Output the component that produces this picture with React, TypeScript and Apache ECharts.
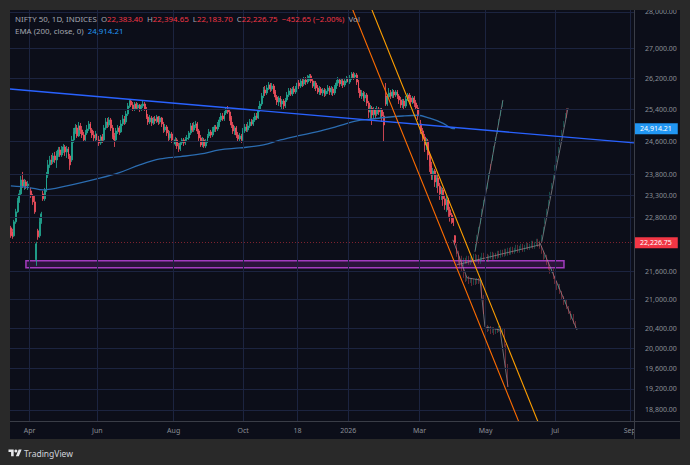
import React, { useEffect, useRef } from 'react';
import * as echarts from 'echarts';

const FONT = '"Noto Sans", "Open Sans", sans-serif';

// ---------- axes ----------
const N_BARS = 368;
const TICK_INDEX = [11, 51, 96, 137, 169, 199, 241, 280, 321, 365];
const TICK_TEXT = ['Apr', 'Jun', 'Aug', 'Oct', '18', '2026', 'Mar', 'May', 'Jul', 'Sep'];
const PRICE_TICKS = [28000, 27000, 26200, 25400, 24600, 23800, 23300, 22800, 21600, 21000, 20400, 20000, 19600, 19200, 18800];
const Y_MIN = 18593;
const Y_MAX = 28056;

// ---------- real daily candles [open, close, low, high] ----------
const CANDLES: number[][] = [
  [22559, 22380, 22335, 22604], [22469, 22357, 22313, 22537], [22380, 22695, 22357, 22740], [22695, 22923, 22650, 22992],
  [22923, 23176, 22900, 23246], [23176, 23339, 23130, 23432], [23339, 23668, 23292, 23763], [23668, 23526, 23479, 23858],
  [23526, 23621, 23432, 23692], [23621, 23526, 23456, 23668], [23526, 23573, 23432, 23644], [23573, 23409, 23362, 23597],
  [23409, 23292, 23246, 23479], [23292, 23153, 23084, 23339], [23153, 22923, 22877, 23292], [21849, 22201, 21718, 22246],
  [22492, 22357, 22290, 22537], [22380, 22695, 22335, 22786], [22695, 22877, 22650, 22923], [23339, 23223, 23176, 23409],
  [23223, 23432, 23176, 23479], [23432, 23787, 23386, 23858], [23787, 24026, 23715, 24146], [24026, 24146, 23954, 24243],
  [24146, 24098, 24026, 24267], [24098, 24243, 24050, 24316], [24243, 24146, 24074, 24340], [24146, 24291, 23954, 24364],
  [24291, 24389, 24219, 24462], [24389, 24267, 24219, 24462], [24267, 24389, 24219, 24486], [24389, 24462, 24316, 24535],
  [24462, 24340, 24243, 24511], [24340, 24413, 24194, 24486], [24413, 24243, 24170, 24462], [24243, 24026, 23906, 24291],
  [24146, 24634, 24098, 24733], [24634, 24832, 24560, 24931], [24832, 24931, 24782, 25031], [24931, 24733, 24683, 25006],
  [24733, 24981, 24708, 25081], [24981, 24882, 24782, 25056], [24882, 24757, 24683, 24981], [24757, 24634, 24585, 24832],
  [24634, 24807, 24609, 24882], [24807, 24906, 24757, 25006], [24906, 25031, 24857, 25107], [25031, 24882, 24807, 25081],
  [24882, 24757, 24683, 24931], [24757, 24683, 24609, 24857], [24683, 24782, 24585, 24857], [24782, 24634, 24511, 24832],
  [24634, 24560, 24486, 24733], [24560, 24708, 24511, 24757], [24708, 24634, 24560, 24782], [24634, 24931, 24609, 25006],
  [24931, 25081, 24882, 25182], [25081, 25006, 24931, 25182], [25006, 25132, 24956, 25207], [25132, 24931, 24857, 25182],
  [24931, 24733, 24659, 25006], [24733, 24634, 24462, 24807], [24634, 24857, 24585, 24931], [24857, 24931, 24782, 25006],
  [24931, 24832, 24757, 24981], [24832, 25031, 24807, 25132], [25031, 25157, 24981, 25258], [25157, 25081, 25006, 25232],
  [25081, 25283, 25031, 25359], [25283, 25486, 25232, 25563], [25486, 25614, 25435, 25665], [25614, 25512, 25461, 25665],
  [25512, 25410, 25359, 25588], [25410, 25537, 25359, 25588], [25537, 25435, 25384, 25588], [25435, 25512, 25384, 25563],
  [25512, 25410, 25334, 25537], [25410, 25486, 25359, 25537], [25486, 25537, 25435, 25614], [25537, 25410, 25359, 25588],
  [25410, 25207, 25157, 25461], [25207, 25081, 25006, 25283], [25081, 25182, 25031, 25258], [25182, 25056, 24981, 25232],
  [25056, 25157, 25006, 25207], [25157, 25107, 25031, 25232], [25107, 25207, 25056, 25258], [25207, 25081, 25006, 25232],
  [25081, 25182, 25031, 25232], [25182, 25031, 24956, 25207], [25031, 24882, 24807, 25081], [24882, 24956, 24832, 25031],
  [24956, 24807, 24733, 25006], [24807, 24683, 24609, 24882], [24683, 24782, 24634, 24857], [24782, 24634, 24560, 24832],
  [24634, 24535, 24462, 24708], [24535, 24634, 24486, 24708], [24634, 24486, 24413, 24683], [24486, 24413, 24340, 24560],
  [24413, 24560, 24364, 24609], [24560, 24634, 24511, 24683], [24634, 24560, 24486, 24683], [24560, 24659, 24511, 24708],
  [24659, 24683, 24585, 24757], [24683, 24807, 24634, 24857], [24807, 24981, 24757, 25056], [24981, 24882, 24832, 25056],
  [24882, 25006, 24832, 25081], [25006, 25031, 24931, 25107], [25031, 24857, 24782, 25081], [24857, 24683, 24609, 24906],
  [24683, 24511, 24462, 24757], [24511, 24634, 24462, 24708], [24634, 24486, 24438, 24683], [24486, 24609, 24438, 24659],
  [24609, 24733, 24560, 24782], [24733, 24832, 24683, 24906], [24832, 24757, 24683, 24882], [24757, 24882, 24708, 24956],
  [24882, 24956, 24832, 25006], [24956, 24906, 24832, 25006], [24906, 25006, 24857, 25081], [25006, 25132, 24956, 25207],
  [25132, 25232, 25081, 25308], [25232, 25157, 25107, 25308], [25157, 25308, 25107, 25359], [25308, 25410, 25258, 25461],
  [25410, 25334, 25283, 25486], [25334, 25182, 25107, 25384], [25182, 25006, 24931, 25232], [25006, 24857, 24782, 25081],
  [24857, 24931, 24757, 24981], [24931, 24757, 24683, 24981], [24757, 24659, 24585, 24832], [24659, 24733, 24585, 24807],
  [24733, 24634, 24560, 24782], [24634, 24857, 24585, 24931], [24857, 24956, 24807, 25031], [24956, 24882, 24832, 25031],
  [24882, 24981, 24832, 25081], [24981, 25081, 24931, 25157], [25081, 25031, 24981, 25157], [25031, 25132, 24981, 25207],
  [25132, 25232, 25081, 25308], [25232, 25182, 25132, 25308], [25182, 25384, 25157, 25486], [25384, 25537, 25334, 25614],
  [25537, 25742, 25486, 25820], [25742, 25897, 25691, 25975], [25897, 25820, 25742, 26001], [25820, 25949, 25768, 26027],
  [25949, 26027, 25897, 26105], [26027, 25923, 25846, 26079], [25923, 26001, 25871, 26079], [26001, 25846, 25794, 26053],
  [25846, 25717, 25640, 25897], [25717, 25588, 25512, 25768], [25588, 25691, 25486, 25742], [25691, 25537, 25461, 25742],
  [25537, 25614, 25410, 25665], [25614, 25486, 25384, 25665], [25486, 25640, 25435, 25691], [25640, 25768, 25588, 25846],
  [25768, 25871, 25717, 25949], [25871, 25794, 25742, 25949], [25794, 25923, 25742, 25975], [25923, 25846, 25794, 26001],
  [25846, 25949, 25794, 26001], [25949, 26079, 25897, 26132], [26079, 26001, 25923, 26158], [26001, 26132, 25949, 26210],
  [26132, 26053, 25975, 26184], [26053, 26158, 26001, 26236], [26158, 26105, 26027, 26236], [26105, 26210, 26053, 26289],
  [26210, 26263, 26132, 26315], [26263, 26132, 26079, 26315], [26132, 26001, 25949, 26184], [26001, 26079, 25923, 26132],
  [26079, 25949, 25871, 26132], [25949, 25846, 25794, 26027], [25846, 25923, 25768, 26001], [25923, 25820, 25768, 25975],
  [25820, 25897, 25742, 25949], [25897, 25794, 25717, 25949], [25794, 25871, 25742, 25923], [25871, 25949, 25794, 26027],
  [25949, 25846, 25768, 26001], [25846, 25923, 25768, 26001], [25923, 25820, 25742, 25975], [25820, 25975, 25768, 26027],
  [25975, 26079, 25923, 26158], [26079, 26158, 26001, 26236], [26158, 26053, 25975, 26210], [26053, 26132, 26001, 26210],
  [26132, 26027, 25949, 26184], [26027, 26132, 25975, 26184], [26132, 26210, 26079, 26263], [26210, 26105, 26027, 26263],
  [26105, 26210, 26053, 26289], [26210, 26315, 26158, 26368], [26315, 26236, 26158, 26368], [26236, 26289, 26184, 26342],
  [26289, 26105, 26027, 26342], [26105, 25897, 25820, 26158], [25897, 25742, 25691, 25949], [25742, 25820, 25665, 25897],
  [25820, 25691, 25614, 25871], [25691, 25768, 25588, 25846], [25768, 25563, 25486, 25820], [25563, 25334, 25182, 25614],
  [25334, 25435, 25132, 25512], [25435, 25258, 25006, 25486], [25258, 25384, 25157, 25461], [25384, 25283, 25182, 25435],
  [25283, 25410, 25232, 25486], [25410, 25334, 25258, 25461], [25334, 25384, 25182, 25435], [25384, 25232, 25081, 25435],
  [25232, 25006, 24585, 25334], [25742, 25537, 25486, 26079], [25537, 25717, 25486, 25794], [25717, 25820, 25665, 25949],
  [25820, 25742, 25665, 25897], [25742, 25846, 25691, 25923], [25846, 25768, 25691, 25897], [25768, 25846, 25717, 25897],
  [25846, 25742, 25665, 25897], [25742, 25640, 25537, 25794], [25640, 25512, 25435, 25717], [25512, 25614, 25435, 25665],
  [25614, 25486, 25384, 25665], [25486, 25665, 25435, 25742], [25665, 25768, 25614, 25820], [25768, 25691, 25588, 25820],
  [25691, 25588, 25486, 25768], [25588, 25691, 25537, 25742], [25691, 25563, 25461, 25742], [25563, 25435, 25384, 25640],
  [25435, 25232, 25132, 25512], [25232, 25031, 24931, 25308], [25031, 24857, 24782, 25132], [24857, 24708, 24585, 24931],
  [24708, 24511, 24340, 24782], [24511, 24609, 24389, 24683], [24609, 24267, 24146, 24659], [24267, 24002, 23858, 24340],
  [24002, 23787, 23668, 24098], [23787, 23882, 23668, 23954], [23882, 23621, 23503, 23930], [23621, 23715, 23479, 23787],
  [23715, 23526, 23362, 23810], [23526, 23339, 23199, 23597], [23339, 23432, 23199, 23503], [23432, 23223, 23061, 23479],
  [23223, 23084, 22969, 23292], [23084, 23199, 22923, 23292], [23199, 22969, 22809, 23246], [22969, 22850, 22700, 23038],
  [22850, 22763, 22650, 22900], [22763, 22679.4, 22600, 22810], [22383.4, 22226.75, 22183.7, 22394.65],
];

// ---------- EMA (200) read points [barIndex, value] ----------
const EMA_POINTS: number[][] = [
  [0, 23526], [11, 23487], [19, 23432], [33, 23526], [53, 23715], [64, 23841], [76, 24026], [88, 24170],
  [100, 24226], [112, 24291], [123, 24389], [135, 24438], [149, 24511], [159, 24634], [169, 24733], [181, 24840],
  [192, 24963], [204, 25107], [212, 25150], [222, 25200], [231, 25232], [240, 25250], [247, 25175], [255, 25048],
  [260, 24923], [262, 24914.21],
];

// ---------- projected (ghost) bar patterns [open, close, low, high] ----------
const GHOST1_START = 263;
const GHOST1: number[][] = [
  [22179, 22024, 21980, 22201], [22024, 21893, 21849, 22046], [21893, 21740, 21697, 21915], [21740, 21628, 21588, 21762],
  [21628, 21502, 21459, 21653], [21502, 21412, 21369, 21524], [21412, 21476, 21391, 21497], [21476, 21369, 21327, 21497],
  [21369, 21433, 21348, 21455], [21433, 21327, 21284, 21455], [21327, 21412, 21305, 21433], [21412, 21348, 21305, 21433],
  [21348, 21433, 21327, 21455], [21433, 21369, 21327, 21455], [21369, 21391, 21348, 21412], [21391, 21073, 21030, 21412],
  [21073, 20738, 20696, 21094], [20738, 20449, 20408, 20758], [20449, 20367, 20326, 20470], [20367, 20428, 20346, 20449],
  [20428, 20326, 20285, 20449], [20326, 20408, 20306, 20428], [20408, 20306, 20265, 20428], [20306, 20387, 20285, 20408],
  [20387, 20346, 20306, 20408], [20346, 20428, 20326, 20449], [20428, 20326, 20285, 20449], [20326, 20387, 20306, 20408],
  [20387, 20063, 20023, 20408], [20063, 19666, 19627, 20083], [19666, 19277, 19238, 19686],
];
const GHOST2_START = 263;
const GHOST2: number[][] = [
  [22068, 21958, 21915, 22113], [21958, 21805, 21762, 22002], [21805, 21893, 21762, 21937], [21893, 21762, 21718, 21937],
  [21762, 21849, 21718, 21893], [21849, 21805, 21762, 21893], [21805, 21893, 21762, 21937], [21893, 21784, 21740, 21937],
  [21784, 21871, 21740, 21915], [21871, 21827, 21784, 21915], [21827, 21937, 21784, 21980], [21937, 21849, 21805, 21980],
  [21849, 21915, 21805, 21958], [21915, 21805, 21762, 21958], [21805, 21871, 21762, 21915], [21871, 21958, 21827, 22002],
  [21958, 21893, 21849, 22002], [21893, 21937, 21849, 21980], [21937, 21849, 21805, 21980], [21849, 21915, 21805, 21958],
  [21915, 21980, 21871, 22024], [21980, 21893, 21849, 22024], [21893, 21958, 21849, 22002], [21958, 21915, 21871, 22002],
  [21915, 22002, 21871, 22046], [22002, 21937, 21893, 22046], [21937, 22024, 21893, 22068], [22024, 21958, 21915, 22068],
  [21958, 22046, 21915, 22091], [22046, 21980, 21937, 22091], [21980, 22068, 21937, 22113], [22068, 22002, 21958, 22113],
  [22002, 22091, 21958, 22135], [22091, 22024, 21980, 22135], [22024, 22068, 21980, 22113], [22068, 22135, 22024, 22179],
  [22135, 22046, 22002, 22179], [22046, 22113, 22002, 22157], [22113, 22157, 22068, 22201], [22157, 22068, 22024, 22201],
  [22068, 22135, 22024, 22179], [22135, 22179, 22091, 22223], [22179, 22113, 22068, 22223], [22113, 22157, 22068, 22201],
  [22157, 22223, 22113, 22268], [22223, 22135, 22091, 22268], [22135, 22201, 22091, 22246], [22201, 22268, 22157, 22313],
  [22268, 22179, 22135, 22313], [22179, 22223, 22135, 22268],
];
const GHOST3_START = 274;
const GHOST3: number[][] = [
  [22091, 22179, 22068, 22201], [22290, 22380, 22268, 22402], [22469, 22559, 22447, 22582], [22672, 22763, 22650, 22786],
  [22877, 22969, 22854, 22992], [23084, 23176, 23061, 23199], [23292, 23386, 23269, 23409], [23479, 23573, 23456, 23597],
  [23715, 23810, 23692, 23834], [24026, 23930, 23906, 24050], [24146, 24243, 24122, 24267], [24364, 24462, 24340, 24486],
  [24585, 24683, 24560, 24708], [24807, 24906, 24782, 24931], [25031, 25132, 25006, 25157], [25258, 25359, 25232, 25384],
  [25486, 25588, 25461, 25614],
];
const GHOST4_START = 313;
const GHOST4: number[][] = [
  [22290, 22380, 22268, 22402], [22469, 22559, 22447, 22582], [22672, 22763, 22650, 22786], [22877, 22969, 22854, 22992],
  [23084, 23176, 23061, 23199], [23269, 23362, 23246, 23386], [23479, 23573, 23456, 23597], [23692, 23787, 23668, 23810],
  [23906, 24002, 23882, 24026], [24122, 24219, 24098, 24243], [24340, 24438, 24316, 24462], [24535, 24634, 24511, 24659],
  [24757, 24857, 24733, 24882], [24981, 25081, 24956, 25107], [25182, 25283, 25157, 25308], [25359, 25207, 25182, 25435],
];
const GHOST5_START = 312;
const GHOST5: number[][] = [
  [22223, 22135, 22091, 22246], [22135, 22024, 21980, 22157], [22024, 21893, 21849, 22046], [21893, 21937, 21871, 21958],
  [21937, 21784, 21740, 21958], [21784, 21675, 21632, 21805], [21675, 21588, 21545, 21697], [21588, 21628, 21567, 21653],
  [21628, 21476, 21433, 21653], [21476, 21369, 21327, 21497], [21369, 21241, 21199, 21391], [21241, 21305, 21220, 21327],
  [21305, 21157, 21115, 21327], [21157, 21051, 21009, 21178], [21051, 20925, 20883, 21072], [20925, 20988, 20904, 21009],
  [20988, 20842, 20800, 21009], [20842, 20738, 20696, 20862], [20738, 20614, 20572, 20758], [20614, 20675, 20593, 20696],
  [20675, 20531, 20490, 20696], [20531, 20428, 20387, 20551],
];
const GHOST_LINE1 = [[260.7, 22290], [269, 21459], [276.7, 21412], [279.6, 20428], [288.5, 20367], [293.2, 19238]];
const GHOST_LINE2 = [[263, 21740], [312, 22179]];
const GHOST_LINE3 = [[273.7, 22024], [290.2, 25640]];
const GHOST_LINE4 = [[313, 22223], [328.6, 25435]];
const GHOST_LINE5 = [[312, 22223], [333.9, 20367]];

// ---------- drawings ----------
const TRENDLINE = [[-0.5, 25923], [367.5, 24560]];
const CHANNEL_OUTER = [[199.3, 28338], [303.9, 18243]];
const CHANNEL_INNER = [[210.6, 28338], [315.2, 18243]];
const ZONE = [[8.9, 21827], [326.2, 21675]];

// ---------- styling ----------
const OUTER_BG = '#292929';
const PANEL_BG = '#0c0e19';
const GRID_COLOR = '#1c2440';
const SEP_COLOR = '#3a3d47';
const AXIS_TEXT = '#8b8e97';
const UP = '#22ab94';
const DOWN = '#f7525f';
const GHOST_UP = 'rgba(34,171,148,0.55)';
const GHOST_DOWN = 'rgba(247,82,95,0.55)';
const GHOST_LINE = 'rgba(160,160,165,0.65)';

const CATS = Array.from({ length: N_BARS }, (_, i) => 'b' + i);
const LABEL_OF: Record<string, string> = {};
TICK_INDEX.forEach((idx, k) => { LABEL_OF[CATS[idx]] = TICK_TEXT[k]; });

const fmt = (v: number) => v.toLocaleString('en-US', { minimumFractionDigits: 2, maximumFractionDigits: 2 });

echarts.graphic.registerShape(
  'tvlogo',
  (echarts.graphic as any).extendPath('M14 22H7V11H0V4h14v18zM28 22h-8l7.5-18h8L28 22z', {})
);

function ghostCandles(start: number, rows: number[][]) {
  return {
    type: 'candlestick',
    xAxisIndex: 0,
    yAxisIndex: 0,
    silent: true,
    z: 2,
    barWidth: 1.3,
    data: rows.map((r, k) => [CATS[start + k], r[0], r[1], r[2], r[3]]),
    encode: { x: 0, y: [1, 2, 3, 4] },
    itemStyle: { color: GHOST_UP, color0: GHOST_DOWN, borderColor: GHOST_UP, borderColor0: GHOST_DOWN, borderWidth: 0.7 },
  };
}

function simpleLine(data: number[][], color: string, width: number, z: number, smooth: boolean | number = false) {
  return {
    type: 'line',
    xAxisIndex: 1,
    yAxisIndex: 0,
    data,
    silent: true,
    z,
    smooth,
    showSymbol: false,
    symbol: 'none',
    clip: true,
    lineStyle: { color, width },
  };
}

export default function App() {
  const ref = useRef<HTMLDivElement>(null);

  useEffect(() => {
    document.body.style.margin = '0';
    document.body.style.background = OUTER_BG;
    if (!ref.current) return;
    const chart = echarts.init(ref.current, undefined, { renderer: 'svg' });

    const last = CANDLES[CANDLES.length - 1];
    const prevClose = CANDLES[CANDLES.length - 2][1];
    const chg = last[1] - prevClose;
    const pct = (chg / prevClose) * 100;
    const sign = chg < 0 ? '\u2212' : '+';
    const emaLast = EMA_POINTS[EMA_POINTS.length - 1][1];

    const headerText =
      '{g|NIFTY 50, 1D, INDICES}  {g|O}{r|' + fmt(last[0]) + '}  {g|H}{r|' + fmt(last[3]) + '}  {g|L}{r|' + fmt(last[2]) +
      '}  {g|C}{r|' + fmt(last[1]) + '}  {r|' + sign + fmt(Math.abs(chg)) + ' (' + sign + Math.abs(pct).toFixed(2) + '%)}  {g|Vol}';
    const emaText = '{g|EMA (200, close, 0)}  {b|' + fmt(emaLast) + '}';
    const HF = 7.9;

    const option: any = {
      animation: false,
      backgroundColor: OUTER_BG,
      textStyle: { fontFamily: FONT },
      grid: { left: 10, top: 10, width: 624, height: 411 },
      xAxis: [
        {
          type: 'category',
          data: CATS,
          boundaryGap: true,
          axisLine: { show: false },
          axisTick: { show: false },
          splitLine: { show: false },
          axisLabel: {
            interval: (i: number) => TICK_INDEX.includes(i),
            formatter: (v: string) => LABEL_OF[v] || '',
            color: AXIS_TEXT,
            fontSize: 7,
            margin: 6,
            fontFamily: FONT,
          },
        },
        { type: 'value', min: -0.5, max: N_BARS - 0.5, show: false },
      ],
      yAxis: { type: 'log', logBase: 10, min: Y_MIN, max: Y_MAX, show: false },
      series: [
        {
          type: 'line',
          xAxisIndex: 1,
          yAxisIndex: 0,
          data: [[0, 22000]],
          silent: true,
          z: 1,
          showSymbol: false,
          symbol: 'none',
          lineStyle: { opacity: 0 },
          markLine: {
            silent: true,
            symbol: ['none', 'none'],
            animation: false,
            lineStyle: { color: GRID_COLOR, width: 1, type: 'solid' },
            label: {
              show: true,
              position: 'end',
              distance: 11,
              formatter: '{b}',
              color: AXIS_TEXT,
              fontSize: 7,
              fontFamily: FONT,
            },
            emphasis: { disabled: true },
            data: [
              ...PRICE_TICKS.map((v) => ({ yAxis: v, name: fmt(v) })),
              ...TICK_INDEX.map((i) => ({ xAxis: i, label: { show: false } })),
            ],
          },
        },
        {
          type: 'line',
          xAxisIndex: 1,
          yAxisIndex: 0,
          data: [[0, 22000]],
          silent: true,
          z: 2,
          showSymbol: false,
          symbol: 'none',
          lineStyle: { opacity: 0 },
          markArea: {
            silent: true,
            itemStyle: { color: 'rgba(156,39,176,0.22)', borderColor: '#a33cbf', borderWidth: 1.5 },
            data: [[{ coord: ZONE[0] }, { coord: ZONE[1] }]],
          },
        },
        ghostCandles(GHOST2_START, GHOST2),
        ghostCandles(GHOST1_START, GHOST1),
        ghostCandles(GHOST3_START, GHOST3),
        ghostCandles(GHOST4_START, GHOST4),
        ghostCandles(GHOST5_START, GHOST5),
        simpleLine(GHOST_LINE1, GHOST_LINE, 1, 2),
        simpleLine(GHOST_LINE2, GHOST_LINE, 1, 2),
        simpleLine(GHOST_LINE3, GHOST_LINE, 1, 2),
        simpleLine(GHOST_LINE4, GHOST_LINE, 1, 2),
        simpleLine(GHOST_LINE5, GHOST_LINE, 1, 2),
        {
          type: 'candlestick',
          xAxisIndex: 0,
          yAxisIndex: 0,
          silent: true,
          z: 3,
          barWidth: 1.4,
          data: CANDLES,
          itemStyle: { color: UP, color0: DOWN, borderColor: UP, borderColor0: DOWN, borderWidth: 0.8 },
          markLine: {
            silent: true,
            symbol: ['none', 'none'],
            animation: false,
            lineStyle: { color: 'rgba(242,54,69,0.5)', width: 1, type: [1, 2] },
            label: {
              show: true,
              position: 'end',
              distance: 1,
              formatter: '{b}',
              color: '#ffffff',
              backgroundColor: '#f23645',
              padding: [2, 6, 2, 5],
              fontSize: 7,
              fontFamily: FONT,
            },
            data: [{ yAxis: last[1], name: fmt(last[1]) }],
          },
        },
        {
          ...simpleLine(EMA_POINTS, '#2b6cb0', 1.3, 4, 0.35),
          markLine: {
            silent: true,
            symbol: ['none', 'none'],
            animation: false,
            lineStyle: { color: 'rgba(0,0,0,0)', width: 0 },
            label: {
              show: true,
              position: 'end',
              distance: 1,
              formatter: '{b}',
              color: '#ffffff',
              backgroundColor: '#2196f3',
              padding: [2, 6, 2, 5],
              fontSize: 7,
              fontFamily: FONT,
            },
            data: [{ yAxis: emaLast, name: fmt(emaLast) }],
          },
        },
        simpleLine(TRENDLINE, '#2962ff', 1.3, 5),
        simpleLine(CHANNEL_OUTER, '#ff6d00', 1.1, 5),
        simpleLine(CHANNEL_INNER, '#ffa000', 1.1, 5),
      ],
      graphic: [
        { type: 'rect', silent: true, z: -10, shape: { x: 10, y: 10, width: 670, height: 429 }, style: { fill: PANEL_BG } },
        { type: 'rect', silent: true, z: 50, shape: { x: 635, y: 422, width: 45, height: 17 }, style: { fill: PANEL_BG } },
        { type: 'line', silent: true, z: 60, shape: { x1: 634.5, y1: 10, x2: 634.5, y2: 439 }, style: { stroke: SEP_COLOR, lineWidth: 1 } },
        { type: 'line', silent: true, z: 60, shape: { x1: 10, y1: 421.5, x2: 680, y2: 421.5 }, style: { stroke: SEP_COLOR, lineWidth: 1 } },
        { type: 'rect', silent: true, z: 100, shape: { x: 0, y: 0, width: 690, height: 10 }, style: { fill: OUTER_BG } },
        {
          type: 'text',
          silent: true,
          z: 70,
          x: 15,
          y: 19,
          style: {
            text: headerText,
            fontSize: HF,
            fontFamily: FONT,
            verticalAlign: 'middle',
            rich: {
              g: { fill: '#a3a6af', fontSize: HF, fontFamily: FONT },
              r: { fill: '#f23645', fontSize: HF, fontFamily: FONT },
            },
          },
        },
        {
          type: 'text',
          silent: true,
          z: 70,
          x: 15,
          y: 31,
          style: {
            text: emaText,
            fontSize: HF,
            fontFamily: FONT,
            verticalAlign: 'middle',
            rich: {
              g: { fill: '#a3a6af', fontSize: HF, fontFamily: FONT },
              b: { fill: '#2196f3', fontSize: HF, fontFamily: FONT },
            },
          },
        },
        { type: 'tvlogo', silent: true, z: 70, x: 8.5, y: 448, scaleX: 0.37, scaleY: 0.37, style: { fill: '#e6e7ea' } },
        { type: 'circle', silent: true, z: 70, shape: { cx: 15.9, cy: 451, r: 1.5 }, style: { fill: '#e6e7ea' } },
        {
          type: 'text',
          silent: true,
          z: 70,
          x: 24,
          y: 453,
          style: { text: 'TradingView', fill: '#d1d4dc', fontSize: 8.5, fontFamily: FONT, verticalAlign: 'middle' },
        },
      ],
    };

    chart.setOption(option);
    return () => chart.dispose();
  }, []);

  return <div ref={ref} style={{ width: 690, height: 465 }} />;
}
